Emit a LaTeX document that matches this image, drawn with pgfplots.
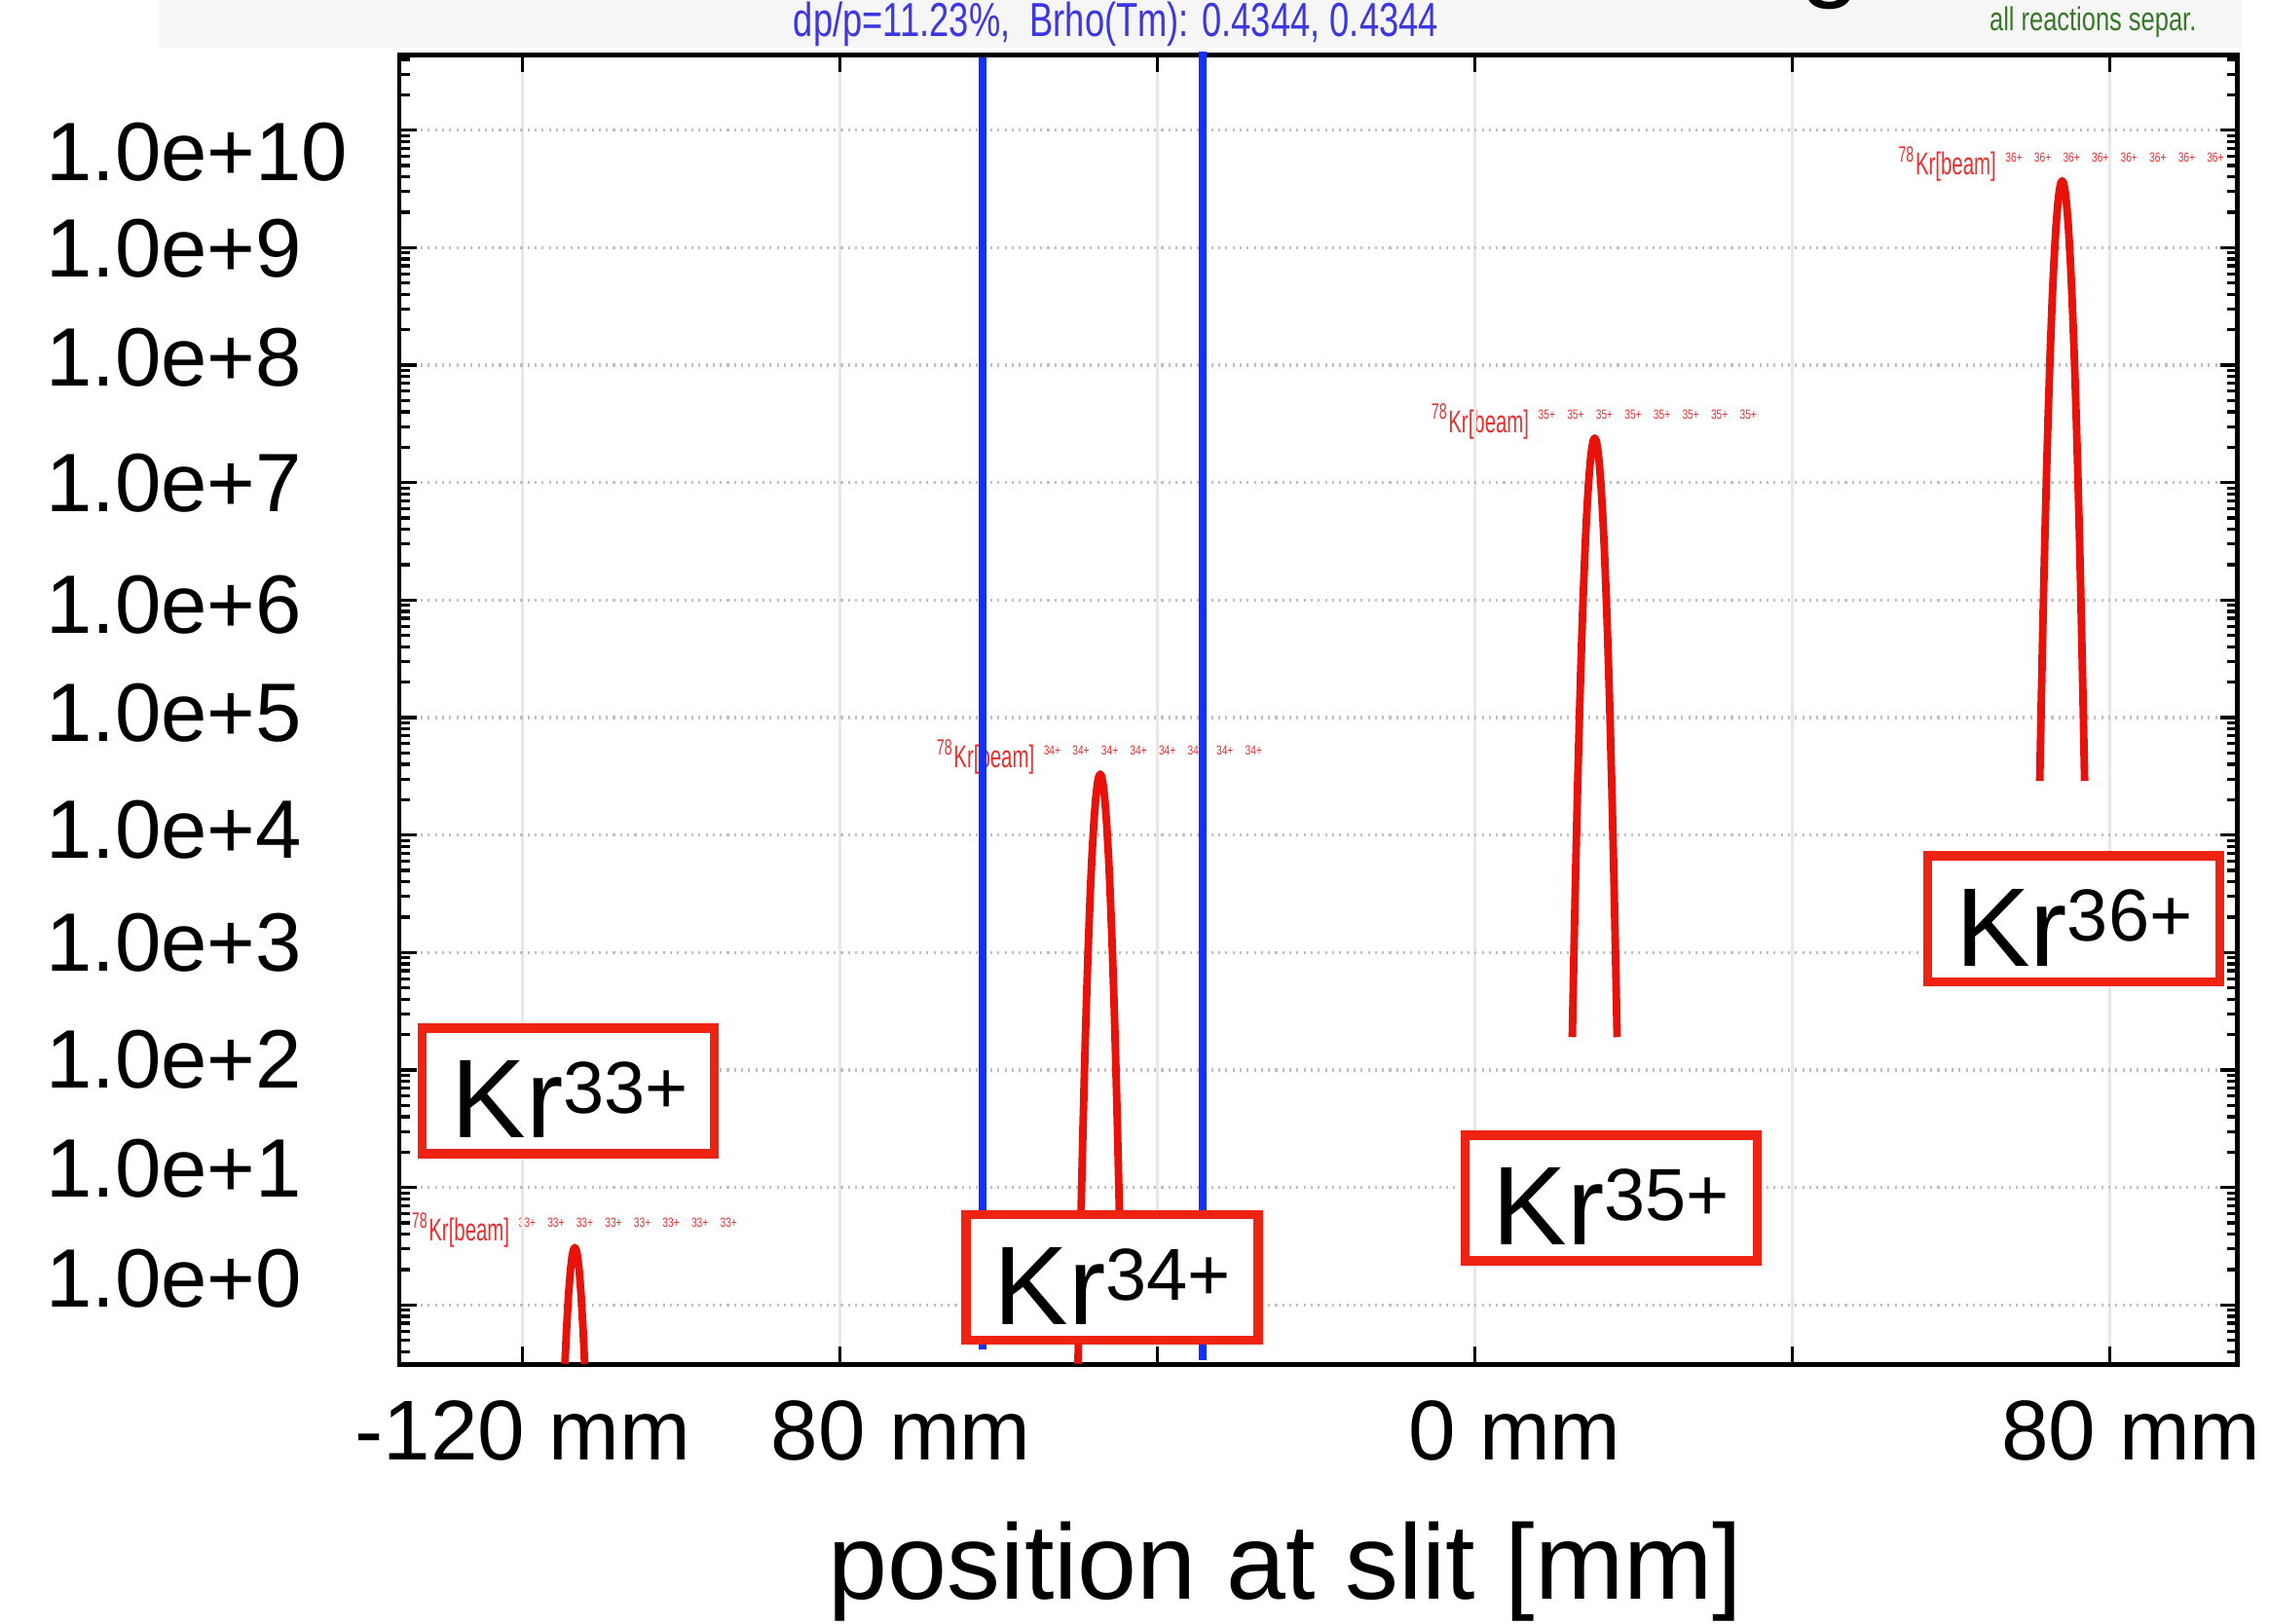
\documentclass[border=0pt]{standalone}
\usepackage{pgfplots}
\pgfplotsset{compat=1.18}
\usepackage{fontspec}
\setmainfont{Liberation Sans}
\usepackage{graphicx}
\definecolor{krred}{RGB}{238,35,18}
\definecolor{peakred}{RGB}{232,18,10}
\definecolor{lblred}{RGB}{238,45,45}
\definecolor{slitblue}{RGB}{18,48,255}
\definecolor{hdrblue}{RGB}{60,55,225}
\definecolor{hdrgreen}{RGB}{55,120,40}
\newcommand\beamlabel[3]{%
  \node[anchor=base west, inner sep=0, text=lblred] at (#1-113,#2-4)
    {\scalebox{0.63}[1]{\fontsize{6.2}{6.2}\selectfont\textsuperscript{78}Kr[beam]}};
  \foreach \i in {0,...,7}
    \node[anchor=base west, inner sep=0, text=lblred] at ({#1-39+19.9*\i},#2-13)
      {\scalebox{0.75}[1]{\fontsize{2.6}{2.6}\selectfont #3+}};
}
\newcommand\krbox[4]{% left, top, charge, centre x
  \draw[krred, line width=0.064cm, fill=white] (#1+3,#2+3) rectangle (#1+205,#2+90);
  \node[anchor=base, inner sep=0] at (#4,#2+79)
    {{\fontsize{22}{22}\selectfont Kr}{\fontsize{14.5}{14.5}\selectfont\raisebox{0.17cm}{#3+}}};
}
\begin{document}
\begin{tikzpicture}
\clip (0,0) rectangle (15.68cm,11.22cm);
\begin{scope}[x=0.01cm,y=-0.01cm,yshift=11.22cm]
  \fill[gray!7] (110,0) rectangle (1550,33);
  \node[anchor=base west, inner sep=0, text=hdrblue] at (548,25)
    {\scalebox{0.74}[1]{\fontsize{9.4}{9.4}\selectfont dp/p=11.23\%,\ \ Brho(Tm): 0.4344, 0.4344}};
  \node[anchor=base west, inner sep=0, text=hdrgreen] at (1375,21)
    {\scalebox{0.75}[1]{\fontsize{6.5}{6.5}\selectfont all reactions separ.}};
  \node[anchor=base, inner sep=0] at (1266,-9) {\fontsize{21.5}{21.5}\selectfont g};
  \beamlabel{397}{862}{33}
  \beamlabel{760}{535}{34}
  \beamlabel{1102}{303}{35}
  \beamlabel{1425}{125}{36}
\end{scope}
\begin{axis}[
  at={(2.76cm,1.79cm)}, anchor=south west,
  scale only axis, width=12.70cm, height=9.05cm,
  xmin=-135.5, xmax=96.05, ymin=-0.505, ymax=10.64,
  xtick={-120,-80,-40,0,40,80}, ytick={0,1,2,3,4,5,6,7,8,9,10},
  minor ytick={-0.398,-0.301,-0.222,-0.155,-0.097,-0.046,
    0.301,0.477,0.602,0.699,0.778,0.845,0.903,0.954,
    1.301,1.477,1.602,1.699,1.778,1.845,1.903,1.954,
    2.301,2.477,2.602,2.699,2.778,2.845,2.903,2.954,
    3.301,3.477,3.602,3.699,3.778,3.845,3.903,3.954,
    4.301,4.477,4.602,4.699,4.778,4.845,4.903,4.954,
    5.301,5.477,5.602,5.699,5.778,5.845,5.903,5.954,
    6.301,6.477,6.602,6.699,6.778,6.845,6.903,6.954,
    7.301,7.477,7.602,7.699,7.778,7.845,7.903,7.954,
    8.301,8.477,8.602,8.699,8.778,8.845,8.903,8.954,
    9.301,9.477,9.602,9.699,9.778,9.845,9.903,9.954,
    10.301,10.477,10.602},
  xticklabels={}, yticklabels={},
  tick align=inside,
  major tick length=0.12cm, minor tick length=0.07cm,
  tick style={black, line width=0.6pt},
  xmajorgrids, ymajorgrids,
  x grid style={gray!18, line width=0.4pt},
  y grid style={gray!50, densely dotted, line width=0.6pt},
  axis line style={line width=0.9pt},
  clip=false,
]
\addplot[peakred, line width=1.5pt, line join=round] coordinates {
(-114.644,-0.50) (-114.446,-0.21) (-114.191,0.09) (-113.959,0.29) (-113.754,0.41)
(-113.577,0.47) (-113.4,0.49) (-113.223,0.47) (-113.046,0.41) (-112.841,0.29)
(-112.609,0.09) (-112.354,-0.21) (-112.156,-0.50)};
\addplot[peakred, line width=1.5pt, line join=round] coordinates {
(-50.001,-0.50) (-49.852,0.02) (-49.7,0.52) (-49.539,1.02) (-49.365,1.52)
(-49.176,2.02) (-48.968,2.52) (-48.731,3.02) (-48.45,3.52) (-48.246,3.82)
(-47.991,4.12) (-47.759,4.32) (-47.554,4.44) (-47.377,4.50) (-47.2,4.52)
(-47.023,4.50) (-46.846,4.44) (-46.641,4.32) (-46.409,4.12) (-46.154,3.82)
(-45.95,3.52) (-45.669,3.02) (-45.432,2.52) (-45.224,2.02) (-45.035,1.52)
(-44.861,1.02) (-44.7,0.52) (-44.548,0.02)};
\addplot[peakred, line width=1.5pt, line join=round] coordinates {
(12.277,2.28) (12.305,2.38) (12.448,2.88) (12.6,3.38) (12.761,3.88) (12.935,4.38)
(13.124,4.88) (13.332,5.38) (13.569,5.88) (13.85,6.38) (14.054,6.68) (14.309,6.98)
(14.541,7.18) (14.746,7.30) (14.923,7.36) (15.1,7.38) (15.277,7.36) (15.454,7.30)
(15.659,7.18) (15.891,6.98) (16.146,6.68) (16.35,6.38) (16.631,5.88) (16.868,5.38)
(17.076,4.88) (17.265,4.38) (17.439,3.88) (17.6,3.38) (17.752,2.88) (17.895,2.38)
(17.923,2.28)};
\addplot[peakred, line width=1.5pt, line join=round] coordinates {
(71.174,4.46) (71.205,4.57) (71.348,5.07) (71.5,5.57) (71.661,6.07) (71.835,6.57)
(72.024,7.07) (72.232,7.57) (72.469,8.07) (72.75,8.57) (72.954,8.87) (73.209,9.17)
(73.441,9.37) (73.646,9.49) (73.823,9.55) (74.0,9.57) (74.177,9.55) (74.354,9.49)
(74.559,9.37) (74.791,9.17) (75.046,8.87) (75.25,8.57) (75.531,8.07) (75.768,7.57)
(75.976,7.07) (76.165,6.57) (76.339,6.07) (76.5,5.57) (76.652,5.07) (76.795,4.57)
(76.826,4.46)};
\addplot[slitblue, line width=1.5pt] coordinates {(-62.0,-0.38) (-62.0,10.616)};
\addplot[slitblue, line width=1.5pt] coordinates {(-34.3,-0.47) (-34.3,10.665)};
\end{axis}
\begin{scope}[x=0.01cm,y=-0.01cm,yshift=11.22cm]
  \foreach \c/\t in {105/10,172/9,247/8,334/7,418/6,493/5,574/4,652/3,733/2,808/1,884/0}
    \node[anchor=west, inner sep=0] at (31,\c) {\fontsize{16.3}{16.3}\selectfont 1.0e+\t};
  \node[anchor=base, inner sep=0] at (361.5,1010) {\fontsize{16.7}{16.7}\selectfont -120 mm};
  \node[anchor=base, inner sep=0] at (623,1010) {\fontsize{16.7}{16.7}\selectfont 80 mm};
  \node[anchor=base, inner sep=0] at (1047.5,1010) {\fontsize{16.7}{16.7}\selectfont 0 mm};
  \node[anchor=base, inner sep=0] at (1473.5,1010) {\fontsize{16.7}{16.7}\selectfont 80 mm};
  \node[anchor=base, inner sep=0] at (889,1106) {\fontsize{21}{21}\selectfont position at slit [mm]};
  \krbox{289}{708}{33}{394}
  \krbox{665}{837}{34}{769}
  \krbox{1010}{782}{35}{1114}
  \krbox{1330}{589}{36}{1434}
\end{scope}
\end{tikzpicture}
\end{document}
